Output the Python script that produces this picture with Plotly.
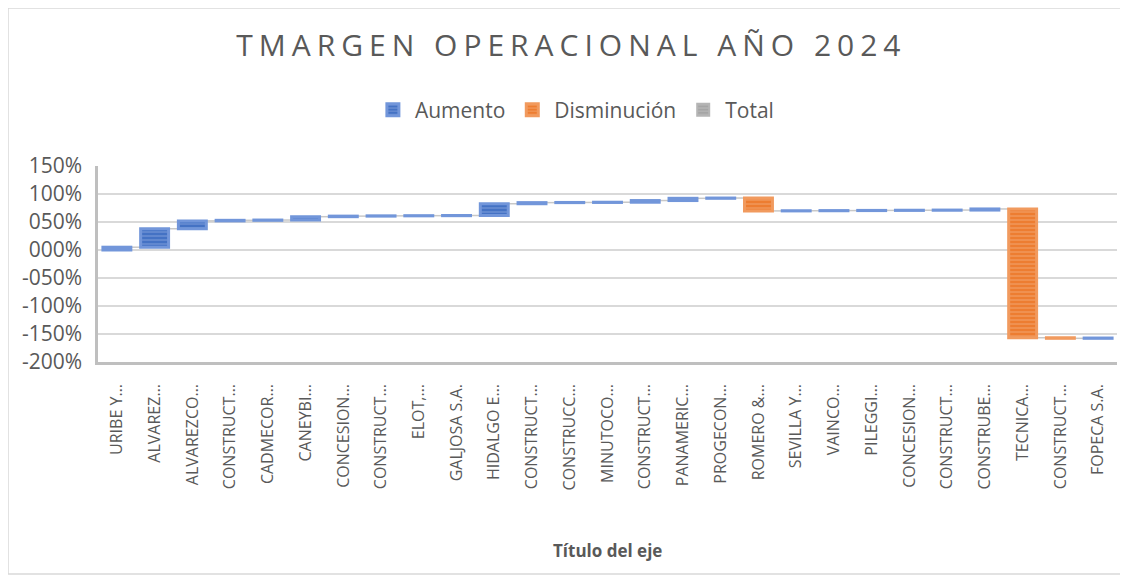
import plotly.graph_objects as go
import numpy as np

empresas = [
    "URIBE Y…", "ALVAREZ…", "ALVAREZCO…", "CONSTRUCT…", "CADMECOR…", "CANEYBI…",
    "CONCESION…", "CONSTRUCT…", "ELOT,…", "GALJOSA S.A.", "HIDALGO E…", "CONSTRUCT…",
    "CONSTRUCC…", "MINUTOCO…", "CONSTRUCT…", "PANAMERIC…", "PROGECON…", "ROMERO &…",
    "SEVILLA Y…", "VAINCO…", "PILEGGI…", "CONCESION…", "CONSTRUCT…", "CONSTRUBE…",
    "TECNICA…", "CONSTRUCT…", "FOPECA S.A.",
]
# variation of the operating margin (percent points)
variacion = [5, 33, 14, 1, 0.5, 6, 1, 0.5, 0.3, 0.3, 21, 2, 0.3, 0.4, 3, 4, 0.5, -23,
             0.3, 0.3, 0.3, 0.3, 0.3, 2, -230, -1, 0.5]
y_ticks = [150, 100, 50, 0, -50, -100, -150, -200]
y_tick_labels = ["150%", "100%", "050%", "000%", "-050%", "-100%", "-150%", "-200%"]

pos = list(range(len(empresas)))
v = np.array(variacion, dtype=float)
fin = np.cumsum(v)
inicio = fin - v

GRAY = "#595959"
FONT = "Open Sans"

# page has an 8px body margin: figure drawn 8px in from the window edge
W, H = 1120, 567
L, R, T, B = 90, 11, 158, 213
plot_h = H - T - B

fig = go.Figure()

# connectors (waterfall with transparent bars)
fig.add_trace(go.Waterfall(
    x=pos, y=variacion, measure=["relative"] * len(variacion),
    increasing=dict(marker=dict(color="rgba(0,0,0,0)", line=dict(width=0))),
    decreasing=dict(marker=dict(color="rgba(0,0,0,0)", line=dict(width=0))),
    totals=dict(marker=dict(color="rgba(0,0,0,0)", line=dict(width=0))),
    connector=dict(line=dict(color="#C8C8C8", width=1.5)),
    showlegend=False, hoverinfo="skip",
))

inc = v >= 0
fig.add_trace(go.Bar(
    name="Aumento",
    x=[p for p, m in zip(pos, inc) if m],
    y=v[inc], base=inicio[inc],
    marker=dict(color="#4472C4", line=dict(color="#7296DA", width=3),
                pattern=dict(shape="-", fgcolor="#A3B9E8", size=4, solidity=0.3)),
))
fig.add_trace(go.Bar(
    name="Disminución",
    x=[p for p, m in zip(pos, inc) if not m],
    y=v[~inc], base=inicio[~inc],
    marker=dict(color="#ED7D31", line=dict(color="#F19A5E", width=3),
                pattern=dict(shape="-", fgcolor="#F7BE97", size=4, solidity=0.3)),
))
fig.add_trace(go.Bar(
    name="Total", x=[None], y=[None],
    marker=dict(color="#A5A5A5", line=dict(color="#B5B5B5", width=2),
                pattern=dict(shape="-", fgcolor="#D0D0D0", size=4, solidity=0.3)),
))

fig.update_layout(
    width=W, height=H,
    paper_bgcolor="white", plot_bgcolor="white",
    margin=dict(l=L, r=R, t=T, b=B, autoexpand=False),
    barmode="overlay", bargap=0.26, waterfallgap=0.26, waterfallmode="overlay",
    font=dict(family=FONT, color=GRAY),
    title=dict(
        text='<span style="letter-spacing:6px">TMARGEN OPERACIONAL AÑO 2024</span>',
        x=0.503, xref="container", xanchor="center",
        y=1 - 37 / H, yref="container", yanchor="middle",
        font=dict(size=30, color=GRAY, family=FONT),
    ),
    legend=dict(orientation="h", x=0.468, xanchor="center", y=(T + plot_h - 102) / plot_h,
                yanchor="middle", font=dict(size=21, color=GRAY), traceorder="normal",
                itemwidth=34),
    xaxis=dict(range=[-0.5, len(empresas) - 0.5], tickmode="array", tickvals=pos,
               ticktext=empresas, tickangle=-90, showgrid=False, zeroline=False,
               showline=True, linecolor="#BFBFBF", linewidth=2.5, ticks="",
               automargin=False,
               ticklabelstandoff=13, tickfont=dict(size=16, color=GRAY)),
    yaxis=dict(range=[-200, 150], tickmode="array", tickvals=y_ticks,
               ticktext=y_tick_labels, showgrid=True, gridcolor="#D9D9D9", gridwidth=1.5,
               zeroline=False, showline=True, linecolor="#BFBFBF", linewidth=2.5,
               automargin=False,
               ticks="", ticklabelstandoff=9, tickfont=dict(size=21, color=GRAY)),
    annotations=[dict(text="<b>Título del eje</b>", x=0.5, xref="paper",
                      y=-(542 - (T + plot_h)) / plot_h, yref="paper", showarrow=False,
                      font=dict(size=17, color=GRAY), xanchor="center", yanchor="middle")],
    shapes=[dict(type="rect", xref="paper", yref="paper",
                 x0=-L / (W - L - R), x1=(W - 2 - L) / (W - L - R),
                 y0=-(B - 1) / plot_h, y1=(plot_h + T) / plot_h,
                 line=dict(color="#D9D9D9", width=1.5), fillcolor="rgba(0,0,0,0)", layer="below")],
)

fig.write_html("out.html")
